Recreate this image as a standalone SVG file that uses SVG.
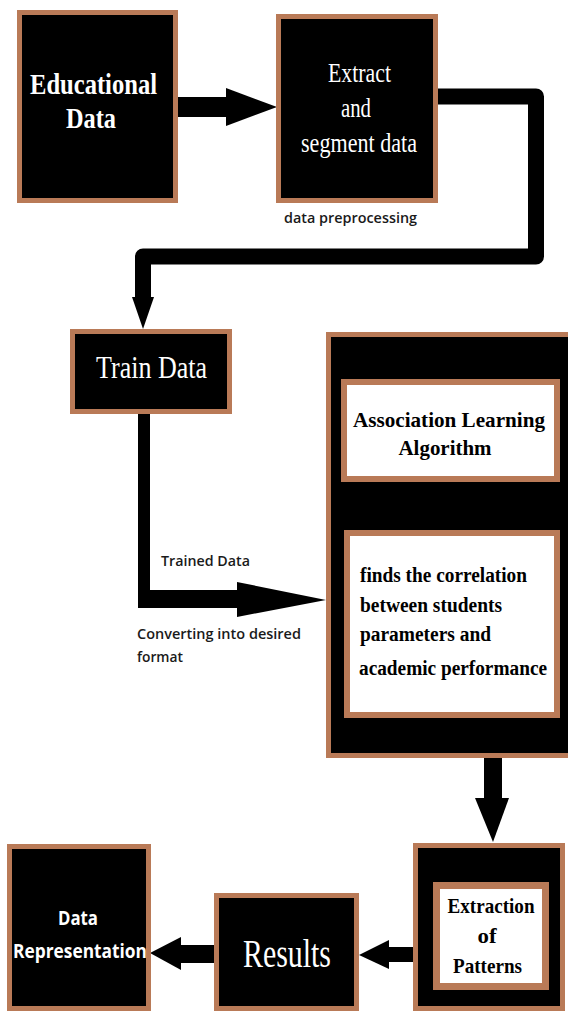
<svg xmlns="http://www.w3.org/2000/svg" width="568" height="1011" viewBox="0 0 568 1011">
  <style>
    .box{fill:#000;stroke:#b97a57;stroke-width:5}
    .wbox{fill:#fff;stroke:#b97a57;stroke-width:6}
    .serifW{font-family:"Liberation Serif","Times New Roman",serif;fill:#fff;text-anchor:middle}
    .serifB{font-family:"Liberation Serif","Times New Roman",serif;fill:#000;font-weight:bold}
    .lbl{font-family:"Open Sans","Liberation Sans",sans-serif;font-weight:600;fill:#1a1a1a;font-size:14px}
    .sansW{font-family:"Open Sans","Liberation Sans",sans-serif;font-weight:bold;fill:#fff;text-anchor:middle;font-size:19px}
    .ar{fill:#000}
  </style>
  <rect width="568" height="1011" fill="#fff"/>
  <g id="connectors">
    <rect class="ar" x="178" y="97" width="49" height="20"/>
    <polygon class="ar" points="226,88 277,107 226,126"/>
    <path d="M438 96.5 H536 V256.5 H143 V298" fill="none" stroke="#000" stroke-width="16" stroke-linejoin="round"/>
    <polygon class="ar" points="132,297 154,297 143,329"/>
    <polygon class="ar" points="138,414 150,414 150,590 237,590 237,608 138,608"/>
    <polygon class="ar" points="237,582 326,600 237,617"/>
    <rect class="ar" x="484" y="757" width="18" height="42"/>
    <polygon class="ar" points="475,798 509,798 493,842"/>
    <rect class="ar" x="388" y="947" width="27" height="15"/>
    <polygon class="ar" points="389,940 359,955 389,969"/>
    <rect class="ar" x="180" y="945" width="36" height="18"/>
    <polygon class="ar" points="181,937 150,953 181,970"/>
  </g>
  <g id="educational-data">
    <rect class="box" x="19.5" y="12.5" width="156" height="188"/>
    <text class="serifW" font-weight="bold" font-size="30" x="93.5" y="94" textLength="127" lengthAdjust="spacingAndGlyphs">Educational</text>
    <text class="serifW" font-weight="bold" font-size="30" x="91" y="128" textLength="50" lengthAdjust="spacingAndGlyphs">Data</text>
  </g>
  <g id="extract-segment">
    <rect class="box" x="278.5" y="16.5" width="157" height="184"/>
    <text class="serifW" font-size="28" x="359.5" y="82" textLength="63" lengthAdjust="spacingAndGlyphs">Extract</text>
    <text class="serifW" font-size="28" x="356" y="117" textLength="30" lengthAdjust="spacingAndGlyphs">and</text>
    <text class="serifW" font-size="28" x="359" y="152" textLength="116" lengthAdjust="spacingAndGlyphs">segment data</text>
  </g>
  <g id="label-preprocessing">
    <text class="lbl" x="284" y="223" textLength="133" lengthAdjust="spacingAndGlyphs">data preprocessing</text>
  </g>
  <g id="train-data">
    <rect class="box" x="72.5" y="331.5" width="157" height="80"/>
    <text class="serifW" font-size="32" x="151.5" y="378" textLength="111" lengthAdjust="spacingAndGlyphs">Train Data</text>
  </g>
  <g id="label-trained">
    <text class="lbl" x="161" y="566" textLength="89" lengthAdjust="spacingAndGlyphs">Trained Data</text>
    <text class="lbl" x="137" y="639" textLength="164" lengthAdjust="spacingAndGlyphs">Converting into desired</text>
    <text class="lbl" x="137" y="662" textLength="46" lengthAdjust="spacingAndGlyphs">format</text>
  </g>
  <g id="association-block">
    <rect class="box" x="328.5" y="334.5" width="260" height="421"/>
    <g id="association-algorithm">
      <rect class="wbox" x="344" y="382" width="213" height="97"/>
      <text class="serifB" font-size="22" x="449" y="427" text-anchor="middle" textLength="192" lengthAdjust="spacingAndGlyphs">Association Learning</text>
      <text class="serifB" font-size="22" x="445" y="455" text-anchor="middle" textLength="93" lengthAdjust="spacingAndGlyphs">Algorithm</text>
    </g>
    <g id="correlation">
      <rect class="wbox" x="347" y="533" width="210" height="182"/>
      <text class="serifB" font-size="20" x="360" y="582" textLength="167" lengthAdjust="spacingAndGlyphs">finds the correlation</text>
      <text class="serifB" font-size="20" x="360" y="612" textLength="142" lengthAdjust="spacingAndGlyphs">between students</text>
      <text class="serifB" font-size="20" x="360" y="641" textLength="131" lengthAdjust="spacingAndGlyphs">parameters and</text>
      <text class="serifB" font-size="20" x="359" y="675" textLength="188" lengthAdjust="spacingAndGlyphs">academic performance</text>
    </g>
  </g>
  <g id="extraction-patterns">
    <rect class="box" x="415.5" y="845.5" width="147" height="163"/>
    <rect fill="#fff" stroke="#b97a57" stroke-width="7" x="436.5" y="885.5" width="109" height="101"/>
    <text class="serifB" font-size="22" x="491" y="913" text-anchor="middle" textLength="87" lengthAdjust="spacingAndGlyphs">Extraction</text>
    <text class="serifB" font-size="22" x="487" y="943" text-anchor="middle" textLength="19" lengthAdjust="spacingAndGlyphs">of</text>
    <text class="serifB" font-size="22" x="487.5" y="973" text-anchor="middle" textLength="69" lengthAdjust="spacingAndGlyphs">Patterns</text>
  </g>
  <g id="results">
    <rect class="box" x="216.5" y="895.5" width="140" height="113"/>
    <text class="serifW" font-size="40" x="287" y="967" textLength="88" lengthAdjust="spacingAndGlyphs">Results</text>
  </g>
  <g id="data-representation">
    <rect class="box" x="9.5" y="846.5" width="139" height="162"/>
    <text class="sansW" x="78" y="925" textLength="40" lengthAdjust="spacingAndGlyphs">Data</text>
    <text class="sansW" x="80" y="958" textLength="134" lengthAdjust="spacingAndGlyphs">Representation</text>
  </g>
</svg>
